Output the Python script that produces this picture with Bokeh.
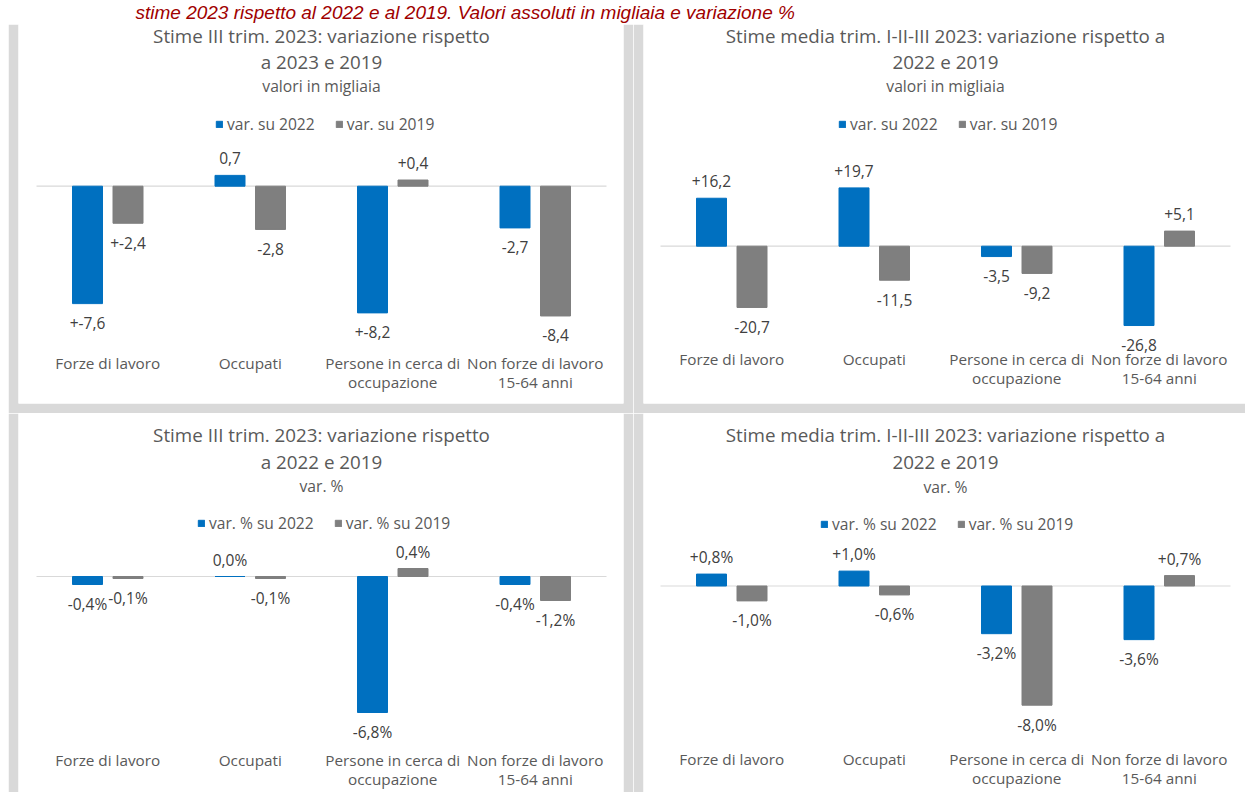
from bokeh.plotting import figure
from bokeh.layouts import column, row
from bokeh.models import Range1d, Label, Legend, LegendItem, ColumnDataSource, Spacer
from bokeh.core.properties import value
from bokeh.embed import file_html
from bokeh.resources import INLINE

# ---------------- data ----------------
categories = ["Forze di lavoro", "Occupati", "Persone in cerca di\noccupazione",
              "Non forze di lavoro\n15-64 anni"]

caption = "stime 2023 rispetto al 2022 e al 2019. Valori assoluti in migliaia e variazione %"

series_abs = ["var. su 2022", "var. su 2019"]
series_pct = ["var. % su 2022", "var. % su 2019"]

# top-left: III trim. 2023, valori in migliaia
tl_title = ["Stime III trim. 2023: variazione rispetto", "a 2023 e 2019", "valori in migliaia"]
tl_var2022 = [-7.6, 0.7, -8.2, -2.7]
tl_var2019 = [-2.4, -2.8, 0.4, -8.4]
tl_lab2022 = ["+-7,6", "0,7", "+-8,2", "-2,7"]
tl_lab2019 = ["+-2,4", "-2,8", "+0,4", "-8,4"]

# top-right: media trim. I-II-III 2023, valori in migliaia
tr_title = ["Stime media trim. I-II-III 2023: variazione rispetto a", "2022 e 2019", "valori in migliaia"]
tr_var2022 = [16.2, 19.7, -3.5, -26.8]
tr_var2019 = [-20.7, -11.5, -9.2, 5.1]
tr_lab2022 = ["+16,2", "+19,7", "-3,5", "-26,8"]
tr_lab2019 = ["-20,7", "-11,5", "-9,2", "+5,1"]

# bottom-left: III trim. 2023, var. %
bl_title = ["Stime III trim. 2023: variazione rispetto", "a 2022 e 2019", "var. %"]
bl_var2022 = [-0.4, 0.0, -6.8, -0.4]
bl_var2019 = [-0.1, -0.1, 0.4, -1.2]
bl_lab2022 = ["-0,4%", "0,0%", "-6,8%", "-0,4%"]
bl_lab2019 = ["-0,1%", "-0,1%", "0,4%", "-1,2%"]

# bottom-right: media trim. I-II-III 2023, var. %
br_title = ["Stime media trim. I-II-III 2023: variazione rispetto a", "2022 e 2019", "var. %"]
br_var2022 = [0.8, 1.0, -3.2, -3.6]
br_var2019 = [-1.0, -0.6, -8.0, 0.7]
br_lab2022 = ["+0,8%", "+1,0%", "-3,2%", "-3,6%"]
br_lab2019 = ["-1,0%", "-0,6%", "-8,0%", "+0,7%"]

# ---------------- style ----------------
FONT = "Open Sans"
BLUE = "#0070c0"
GREY_BAR = "#7f7f7f"
FRAME_GREY = "#d9d9d9"
TEXT = "#595959"
LABEL = "#404040"
CAT_W = 142.5          # px per category
BAR_OFF = 20.25        # px from category centre to bar centre
BAR_W = 30.0           # px


def make_panel(width, height, borders, frame_x0, frame_y0, cat0, zero, scale,
               titles, title_y, legend_labels, legend_left, legend_cy, cat_y,
               v22, v19, l22, l19):
    bl, br, bt, bb = borders
    fx0, fy0 = frame_x0, frame_y0
    fx1 = fx0 + (width - bl - br)
    fy1 = fy0 + (height - bt - bb)

    def xd(px):
        return (px - cat0) / CAT_W

    def yd(py):
        return (zero - py) / scale

    p = figure(width=width, height=height,
               x_range=Range1d(xd(fx0), xd(fx1)),
               y_range=Range1d(yd(fy1), yd(fy0)),
               x_axis_type=None, y_axis_type=None,
               output_backend="svg", toolbar_location=None,
               min_border_left=bl, min_border_right=br,
               min_border_top=bt, min_border_bottom=bb,
               background_fill_color="white", border_fill_color=FRAME_GREY,
               outline_line_color=None)

    n = len(categories)
    centers = [i + 0.5 for i in range(n)]
    off = BAR_OFF / CAT_W
    w = BAR_W / CAT_W

    # zero line
    p.segment(x0=[0], x1=[n], y0=[0], y1=[0], line_color=FRAME_GREY, line_width=1.2)

    renderers = []
    for vals, labs, color, sgn in ((v22, l22, BLUE, -1), (v19, l19, GREY_BAR, 1)):
        xs = [c + sgn * off for c in centers]
        ly = [v + (17 / scale if v >= 0 else -19.5 / scale) for v in vals]
        src = ColumnDataSource(dict(x=xs, top=vals, lab=labs, ly=ly))
        r = p.vbar(x="x", top="top", bottom=0, width=w, source=src,
                   fill_color=color, line_color=color, line_width=1)
        renderers.append(r)
        p.text(x="x", y="ly", text="lab", source=src, text_align="center",
               text_baseline="middle", text_font=value(FONT), text_font_size="15.5px",
               text_color=LABEL)

    # category labels
    p.text(x=centers, y=[yd(cat_y)] * n, text=categories, text_align="center",
           text_baseline="top", text_font=value(FONT), text_font_size="15.3px",
           text_color=TEXT, text_line_height=0.97)

    # titles
    sizes = ["18.8px", "18.8px", "15.7px"]
    for t, ty, fs in zip(titles, title_y, sizes):
        p.add_layout(Label(x=n / 2, y=yd(ty), text=t, text_align="center",
                           text_baseline="middle", text_font=FONT, text_font_size=fs,
                           text_color=TEXT))

    # legend
    legend = Legend(items=[LegendItem(label=legend_labels[0], renderers=[renderers[0]]),
                           LegendItem(label=legend_labels[1], renderers=[renderers[1]])],
                    orientation="horizontal",
                    location=(legend_left - fx0, fy1 - legend_cy - 11),
                    glyph_width=8, glyph_height=8, label_standoff=4, spacing=20,
                    padding=0, margin=0, label_height=22,
                    border_line_color=None, background_fill_alpha=0,
                    label_text_font=FONT, label_text_font_size="15.6px",
                    label_text_color=TEXT)
    p.add_layout(legend)
    return p


TOP = 24      # caption strip height
MID = 413     # top of the lower row
BOTTOM = 792

tl = make_panel(625, MID - TOP, (10, 10, 0, 10), 18, TOP, 36, 185.7, 15.45,
                tl_title, [35.5, 61.5, 85.5], series_abs, 215, 123.5, 352,
                tl_var2022, tl_var2019, tl_lab2022, tl_lab2019)
tr = make_panel(612, MID - TOP, (10, 0, 0, 10), 643, TOP, 660, 245.7, 2.96,
                tr_title, [35.5, 61.5, 85.5], series_abs, 838, 123.5, 348,
                tr_var2022, tr_var2019, tr_lab2022, tr_lab2019)
bl = make_panel(625, BOTTOM - MID, (10, 10, 0, 0), 18, MID, 36, 576, 20.0,
                bl_title, [434.5, 461, 485.5], series_pct, 197, 523, 749,
                bl_var2022, bl_var2019, bl_lab2022, bl_lab2019)
br = make_panel(612, BOTTOM - MID, (10, 0, 0, 0), 643, MID, 660, 585.5, 14.9,
                br_title, [434.5, 461, 486], series_pct, 820, 524, 748,
                br_var2022, br_var2019, br_lab2022, br_lab2019)

cap = figure(width=1245, height=TOP, x_range=Range1d(0, 1245), y_range=Range1d(TOP, 0),
             x_axis_type=None, y_axis_type=None, output_backend="svg",
             toolbar_location=None, min_border=0, min_border_left=0, min_border_right=0,
             min_border_top=0, min_border_bottom=0,
             background_fill_color="white", border_fill_color="white",
             outline_line_color=None)
cap.text(x=[135], y=[11.5], text=[caption], text_align="left", text_baseline="middle",
         text_font=value("Liberation Sans"), text_font_style="italic",
         text_font_size="19px", text_color="#a00000")

p = column(cap,
           row(Spacer(width=8, height=MID - TOP), tl, tr),
           row(Spacer(width=8, height=BOTTOM - MID), bl, br))

open("out.html", "w").write(file_html(p, INLINE))
